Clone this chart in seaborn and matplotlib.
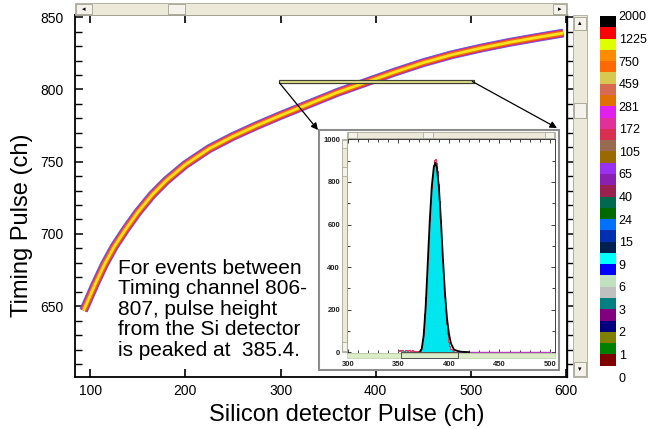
import matplotlib
matplotlib.use('Agg')
import numpy as np
import matplotlib.pyplot as plt
import seaborn as sns
from matplotlib.colors import ListedColormap
from matplotlib.patches import Rectangle, ConnectionPatch
from matplotlib.ticker import MultipleLocator

# ridge of the timing pulse vs silicon pulse 2D spectrum
ridge_x = [93, 97, 105, 115, 125, 137, 150, 165, 180, 200, 225, 250, 275, 300,
           330, 360, 390, 420, 450, 480, 510, 540, 570, 597]
ridge_y = [647, 653, 665, 679, 691, 703, 715, 727, 737, 748, 759, 767.5, 775, 782,
           790, 798, 805, 812, 818.5, 824, 828.5, 832.5, 836, 839]

# colour scale of counts
scale_labels = ['2000', '1225', '750', '459', '281', '172', '105', '65', '40',
                '24', '15', '9', '6', '3', '2', '1', '0']
scale_colors = ['#000000', '#ff0000', '#ddff00', '#ff8c00', '#ff6a00', '#d8c850',
                '#d86a50', '#e07000', '#e020f0', '#e0309a', '#d83050', '#9a6a50',
                '#9a6a00', '#9a30f0', '#8a20b0', '#9a2050', '#006a50', '#006a00',
                '#0070ff', '#0030b0', '#002050', '#00ffff', '#0000ff', '#c0e0c0',
                '#c0c0c0', '#008080', '#800080', '#000080', '#808000', '#008000',
                '#800000', '#ffffff']

# silicon pulse height for timing channels 806-807 (inset)
spec_ch = list(range(350, 501))
spec_counts = ([6, 10, 4, 8, 12, 7, 5, 9, 11, 6, 8, 10, 5, 7, 9, 6, 4, 5, 3, 4,
                3, 6, 13, 28, 60, 110, 180, 260, 350, 440, 530, 620, 700, 770, 830,
                880, 905, 910, 890, 850, 790, 710, 620, 525, 430, 340, 260, 190,
                130, 85, 50, 28, 15, 8, 4, 2, 1] + [0] * 94)
fit_x = [365, 368, 371, 373, 375, 377, 379, 381, 383, 385, 386.5, 388, 390, 392,
         394, 396, 398, 400, 402, 405, 410, 415, 420]
fit_y = [-3, -4, -2, 15, 80, 220, 420, 620, 780, 870, 890, 868, 775, 620,
         440, 280, 160, 85, 40, 12, 3, 1, 0]

sns.set_style('ticks')
plt.rcParams['font.family'] = ['Liberation Sans', 'DejaVu Sans']
plt.rcParams.update({'text.color': 'black', 'axes.labelcolor': 'black',
                     'xtick.color': 'black', 'ytick.color': 'black'})

W, H = 648, 429
fig = plt.figure(figsize=(W / 100, H / 100), dpi=100)


def px_rect(x0, y0, x1, y1):
    return [x0 / W, 1 - y1 / H, (x1 - x0) / W, (y1 - y0) / H]


def box(x0, y0, x1, y1, fc='#ece9d8', ec='#aaa898', lw=0.6, z=3):
    l, b, w, h = px_rect(x0, y0, x1, y1)
    fig.add_artist(Rectangle((l, b), w, h, transform=fig.transFigure,
                             facecolor=fc, edgecolor=ec, lw=lw, zorder=z))


# ---- main 2D plot
ax = fig.add_axes(px_rect(75, 15, 567, 377))
layers = [(6.4, '#4a6ef0'), (5.7, '#a040e0'), (5.0, '#e02860'),
          (3.9, '#f06a10'), (2.0, '#f8e418')]
for lw, col in layers:
    sns.lineplot(x=ridge_x, y=ridge_y, ax=ax, color=col, lw=lw, sort=False,
                 estimator=None, legend=False, solid_capstyle='butt')

ax.set_xlim(84, 601)
ax.set_ylim(601, 851.5)
ax.xaxis.set_major_locator(MultipleLocator(100))
ax.yaxis.set_major_locator(MultipleLocator(50))
ax.yaxis.set_minor_locator(MultipleLocator(10))
ax.tick_params(axis='x', which='major', direction='in', top=True, bottom=True,
               length=6, width=1.2, labelsize=10, pad=5)
ax.tick_params(axis='y', which='major', direction='in', left=True, right=False,
               length=6, width=1.1, labelsize=10, pad=8)
ax.tick_params(axis='y', which='minor', direction='in', left=True, right=False,
               length=5, width=1.0)
sec = ax.secondary_yaxis('right')
sec.yaxis.set_major_locator(MultipleLocator(50))
sec.yaxis.set_minor_locator(MultipleLocator(10))
sec.tick_params(which='major', direction='out', length=6, width=1.1, labelright=False)
sec.tick_params(which='minor', direction='out', length=4, width=1.0)
for s in ax.spines.values():
    s.set_linewidth(1.3)
    s.set_color('black')
sec.spines['right'].set_linewidth(1.0)

ax.set_xlabel('Silicon detector Pulse (ch)', fontsize=17)
ax.set_ylabel('Timing Pulse (ch)', fontsize=17)
ax.xaxis.set_label_coords(0.552, -0.075)
ax.yaxis.set_label_coords(-0.085, 0.42)

ax.text(129, 683, 'For events between\nTiming channel 806-\n807, pulse height\n'
        'from the Si detector\nis peaked at  385.4.', fontsize=15, va='top',
        ha='left', linespacing=1.1)

# timing window 806-807 marked on the ridge
ax.add_patch(Rectangle((298, 804.3), 205, 2.2, facecolor='#e6e890',
                       edgecolor='#404030', lw=0.9, zorder=5))

# ---- scroll bars of the main window
box(75, 3, 567, 15)
for b in [(76, 4, 92, 14), (168, 4, 185, 14), (553, 4, 566, 14)]:
    box(*b, fc='#f4f2ea', ec='#a0a090')
box(573, 15, 587, 377)
for b in [(574, 17, 586, 30), (574, 103, 586, 118), (574, 362, 586, 376)]:
    box(*b, fc='#f4f2ea', ec='#a0a090')
for tx, ty, g in [(84, 9, '\u25c2'), (559.5, 9, '\u25b8'), (580, 23.5, '\u25b4'),
                  (580, 369, '\u25be')]:
    fig.text(tx / W, 1 - ty / H, g, fontsize=5, ha='center', va='center',
             family='DejaVu Sans', zorder=4)

# ---- inset frame
box(319, 130, 559, 370, fc='white', ec='#8c8c8c', lw=1.5, z=1)

ax2 = fig.add_axes(px_rect(347, 139, 555, 353))
ax2.set_zorder(2)
sns.histplot(x=spec_ch, weights=spec_counts, discrete=True, element='step',
             fill=True, color='#00e6ee', alpha=1, linewidth=0, ax=ax2)
sns.lineplot(x=spec_ch[:57], y=spec_counts[:57], ax=ax2, color='#e04060', lw=0.8,
             drawstyle='steps-mid', estimator=None, sort=False)
sns.lineplot(x=spec_ch[56:], y=spec_counts[56:], ax=ax2, color='#b040c0', lw=1.0,
             drawstyle='steps-mid', estimator=None, sort=False)
sns.lineplot(x=fit_x, y=fit_y, ax=ax2, color='black', lw=1.3, estimator=None,
             sort=False)
ax2.set_xlim(299, 505)
ax2.set_ylim(-4, 1002)
ax2.set_xlabel('')
ax2.set_ylabel('')
ax2.xaxis.set_major_locator(MultipleLocator(50))
ax2.xaxis.set_minor_locator(MultipleLocator(10))
ax2.yaxis.set_major_locator(MultipleLocator(200))
ax2.yaxis.set_minor_locator(MultipleLocator(100))
ax2.tick_params(which='both', direction='in', top=True, right=True, width=0.6,
                labelsize=5.5, colors='#202020')
ax2.tick_params(which='major', length=3)
ax2.tick_params(which='minor', length=2.5)
ax2.tick_params(axis='y', pad=5)
ax2.tick_params(axis='x', pad=6)
for t in ax2.get_xticklabels() + ax2.get_yticklabels():
    t.set_fontweight('bold')
for s in ax2.spines.values():
    s.set_linewidth(0.7)
    s.set_color('#404040')

# inset scroll strips
box(347, 132, 555, 138)
for b in [(348, 132, 357, 138), (423, 132, 433, 138), (545, 132, 554, 138)]:
    box(*b, fc='#f4f2ea', ec='#a0a090', lw=0.5)
box(342, 139, 347, 352)
for b in [(342, 140, 347, 148), (342, 167, 347, 176), (342, 342, 347, 351)]:
    box(*b, fc='#f4f2ea', ec='#a0a090', lw=0.5)
box(347, 353, 555, 358, fc='#dcecc8', ec='#c4d4b0')
box(401, 352, 458, 358, fc='none', ec='#505050', lw=0.7, z=4)

# arrows from the window to the inset
for start, end in [((299, 804.4), (318 / W, 1 - 130 / H)),
                   ((501.5, 805.5), (557 / W, 1 - 128 / H))]:
    con = ConnectionPatch(xyA=start, coordsA=ax.transData, xyB=end,
                          coordsB=fig.transFigure, arrowstyle='-|>', color='black',
                          lw=0.9, mutation_scale=10, shrinkA=0, shrinkB=0, zorder=5)
    fig.add_artist(con)

# ---- colour scale
cax = fig.add_axes(px_rect(600, 16, 616, 377))
sns.heatmap(np.arange(32).reshape(-1, 1), cmap=ListedColormap(scale_colors),
            vmin=-0.5, vmax=31.5, cbar=False, ax=cax, xticklabels=False,
            yticklabels=False)
cax.set_yticks(np.arange(0, 33, 2))
cax.set_yticklabels(scale_labels)
cax.yaxis.tick_right()
cax.tick_params(axis='y', length=0, labelsize=9, pad=2, labelrotation=0)

fig.savefig('out.png', dpi=100)
